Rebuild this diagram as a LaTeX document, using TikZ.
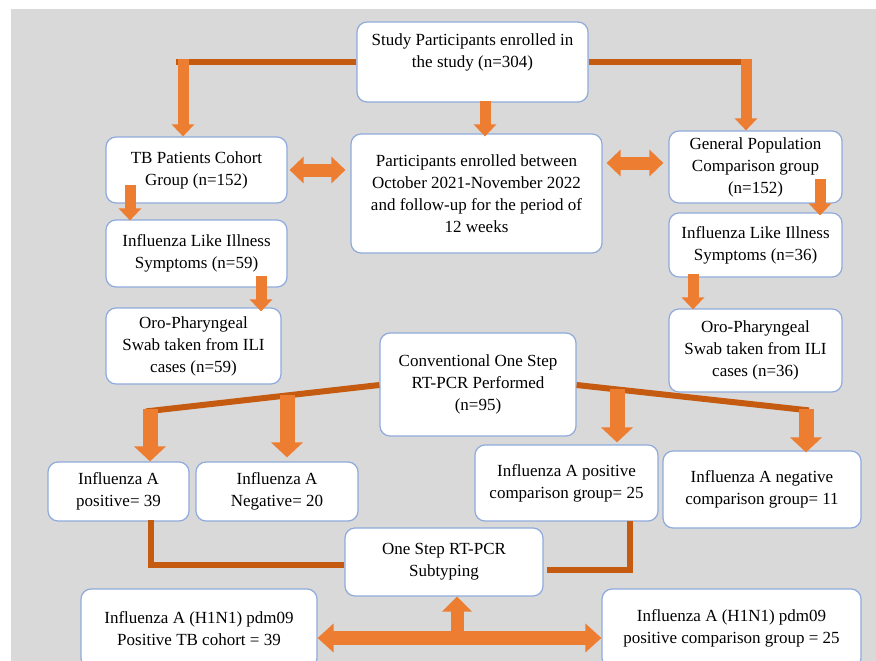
\documentclass[tikz,border=0pt]{standalone}
\usepackage{fontspec}
\setmainfont{Liberation Serif}
\usetikzlibrary{arrows.meta,calc}
\definecolor{bg}{HTML}{D9D9D9}
\definecolor{arr}{HTML}{ED7D31}
\definecolor{lnk}{HTML}{C55A11}
\definecolor{bord}{HTML}{8FAADC}
\begin{document}
\begin{tikzpicture}[x=1pt,y=-1pt,
  box/.style={draw=bord, line width=1.2pt, fill=white, rounded corners=10pt, align=center, inner sep=0pt, font=\fontsize{17pt}{22pt}\selectfont},
  sarrow/.style={draw=arr, line width=11pt, -{Triangle[width=22pt,length=12pt]}},
  barrow/.style={draw=arr, line width=15pt, -{Triangle[width=31pt,length=15pt]}},
  marrow/.style={draw=arr, line width=13pt, -{Triangle[width=29pt,length=15pt]}},
  darrow/.style={draw=arr, line width=13pt, {Triangle[width=26pt,length=14pt]}-{Triangle[width=26pt,length=14pt]}},
  harrow/.style={draw=arr, line width=14pt, {Triangle[width=28pt,length=16pt]}-{Triangle[width=28pt,length=16pt]}},
  link/.style={draw=lnk, line width=6pt}]
\useasboundingbox (0,0) rectangle (876,661);
\clip (0,0) rectangle (876,661);
\fill[white] (0,0) rectangle (876,661);
\fill[bg] (11,9) rectangle (876,661);

% boxes
\node[box, minimum width=231pt, minimum height=80pt] (study) at (472.5,62) {Study Participants enrolled in\\the study (n=304)\\\mbox{}};
\node[box, minimum width=251pt, minimum height=119pt] (enrol) at (476.5,193.5) {Participants enrolled between\\October 2021-November 2022\\and follow-up for the period of\\12 weeks};
\node[box, minimum width=181pt, minimum height=66pt] (tb) at (196.5,170) {TB Patients Cohort\\Group (n=152)};
\node[box, minimum width=181pt, minimum height=67pt] (ili1) at (196.5,253.5) {Influenza Like Illness\\Symptoms (n=59)};
\node[box, minimum width=175pt, minimum height=76pt] (oro1) at (193.5,346) {Oro-Pharyngeal\\Swab taken from ILI\\cases (n=59)};
\node[box, minimum width=173pt, minimum height=72pt] (gen) at (755.5,167) {General Population\\Comparison group\\(n=152)};
\node[box, minimum width=173pt, minimum height=64pt] (ili2) at (755.5,245) {Influenza Like Illness\\Symptoms (n=36)};
\node[box, minimum width=173pt, minimum height=83pt] (oro2) at (755.5,350.5) {Oro-Pharyngeal\\Swab taken from ILI\\cases (n=36)};
\node[box, minimum width=196pt, minimum height=103pt] (conv) at (478,384.5) {Conventional One Step\\RT-PCR Performed\\(n=95)};
\node[box, minimum width=141pt, minimum height=59pt] (posA) at (118.5,491.5) {Influenza A\\positive= 39};
\node[box, minimum width=162pt, minimum height=59pt] (negA) at (277,491.5) {Influenza A\\Negative= 20};
\node[box, minimum width=183pt, minimum height=76pt] (posC) at (566.5,483) {Influenza A positive\\comparison group= 25};
\node[box, minimum width=198pt, minimum height=77pt] (negC) at (762,489.5) {Influenza A negative\\comparison group= 11};
\node[box, minimum width=198pt, minimum height=68pt] (sub) at (444,562) {One Step RT-PCR\\Subtyping};
\node[box, minimum width=236pt, minimum height=79pt] (h1) at (199,628.5) {Influenza A (H1N1) pdm09\\Positive TB cohort = 39};
\node[box, minimum width=259pt, minimum height=79pt] (h2) at (731.5,628.5) {Influenza A (H1N1) pdm09\\positive comparison group = 25};

% top connectors
\coordinate (t0) at ([xshift=-13.5pt]tb.north);
\coordinate (tl) at (t0 |- study.west);
\draw[link] (study.west) -- ([xshift=-7pt]tl);
\draw[sarrow] ([yshift=3pt]tl) -- (tl |- tb.north);
\coordinate (r0) at ([xshift=-9.5pt]gen.north);
\coordinate (tr) at (r0 |- study.east);
\draw[link] (study.east) -- ([xshift=5pt]tr);
\draw[sarrow] ([yshift=3pt]tr) -- (tr |- gen.north);
\coordinate (c0) at ([xshift=12.5pt,yshift=2pt]study.south);
\draw[sarrow] (c0) -- ([yshift=-3pt]c0 |- enrol.north);

\draw[darrow] ([xshift=2pt]tb.east) -- ([xshift=-5pt]tb.east -| enrol.west);
\draw[darrow] ([xshift=4pt,yshift=4pt]gen.west -| enrol.east) -- ([xshift=-5pt,yshift=4pt]gen.west);

\coordinate (d1) at ([xshift=-66.5pt,yshift=19pt]tb.south);
\draw[sarrow] (d1) -- ([yshift=-1pt]d1 |- ili1.north);
\coordinate (d2) at ([xshift=64.5pt,yshift=12pt]ili1.south);
\draw[sarrow] (d2) -- ([yshift=-4pt]d2 |- oro1.north);
\coordinate (d3) at ([xshift=64.5pt,yshift=25pt]gen.south);
\draw[sarrow] (d3) -- ([yshift=-3pt]d3 |- ili2.north);
\coordinate (d4) at ([xshift=-62.5pt,yshift=4pt]ili2.south);
\draw[sarrow] (d4) -- ([yshift=-1pt]d4 |- oro2.north);

% lower connectors
\coordinate (ll) at ([xshift=27.5pt,yshift=50pt]posA.north);
\draw[link] ([yshift=-0.5pt]conv.west) -- (ll);
\coordinate (p1) at ([xshift=31.5pt,yshift=52pt]posA.north);
\draw[barrow] (p1) -- (p1 |- posA.north);
\coordinate (p2) at ([xshift=10pt,yshift=66pt]negA.north);
\draw[barrow] (p2) -- ([yshift=4pt]p2 |- negA.north);
\coordinate (rl) at ([xshift=47pt,yshift=40pt]negC.north);
\draw[link] ([yshift=-0.5pt]conv.east) -- (rl);
\coordinate (p3) at ([xshift=50.5pt,yshift=55pt]posC.north);
\draw[barrow] (p3) -- ([yshift=2pt]p3 |- posC.north);
\coordinate (p4) at ([xshift=44pt,yshift=41pt]negC.north);
\draw[barrow] (p4) -- ([yshift=-2pt]p4 |- negC.north);

\draw[link] ([xshift=32pt,yshift=2pt]posA.south) |- ([yshift=-3pt]sub.west);
\draw[link] ([xshift=63.5pt,yshift=1pt]posC.south) |- ([xshift=3pt,yshift=-8pt]sub.east);

\draw[harrow] ([yshift=-9.5pt]h1.east) -- ([yshift=-9.5pt]h2.west);
\coordinate (u) at ([xshift=13pt,yshift=-42pt]sub.south);
\draw[marrow] (u) -- ([xshift=13pt]sub.south);
\end{tikzpicture}
\end{document}
